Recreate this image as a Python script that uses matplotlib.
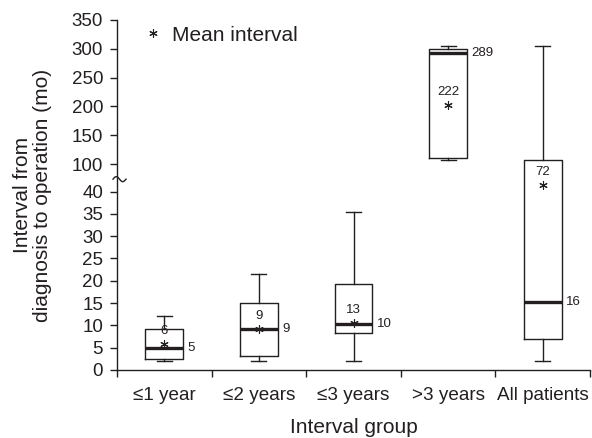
import numpy as np
import matplotlib
matplotlib.use("Agg")
import matplotlib.pyplot as plt
import matplotlib.transforms as mtransforms

plt.rcParams['font.family'] = ['Liberation Sans', 'DejaVu Sans']

# ---- Datos ----
grupos = ['≤1 year', '≤2 years', '≤3 years', '>3 years', 'All patients']
whis_lo = [2.0, 2.0, 2.1, 107, 1.95]
q1 = [2.5, 3.2, 8.3, 111, 6.95]
mediana = [5.0, 9.2, 10.2, 292, 15.3]
q3 = [9.3, 15.0, 19.2, 300.4, 107]
whis_hi = [12.0, 21.5, 35.5, 304.6, 304]
media_pos = [5.8, 9.2, 10.6, 202.6, 54.5]
media_txt = ['6', '9', '13', '222', '72']
mediana_txt = ['5', '9', '10', '289', '16']

yticks = [0, 5, 10, 15, 20, 25, 30, 35, 40, 100, 150, 200, 250, 300, 350]
corte = 67  # donde va la marca ~ del eje

# ---- Escala con corte (0-40 lineal, salto, 100-350 comprimido) ----
G = 6.17      # hueco 40 -> 100
K = 0.1291    # compresion arriba de 100


def fwd(y):
    y = np.asarray(y, dtype=float)
    return np.where(y <= 40, y,
                    np.where(y <= 100, 40 + (y - 40) * G / 60,
                             40 + G + (y - 100) * K))


def inv(t):
    t = np.asarray(t, dtype=float)
    return np.where(t <= 40, t,
                    np.where(t <= 40 + G, 40 + (t - 40) * 60 / G,
                             100 + (t - 40 - G) / K))


col = '#231f20'

fig = plt.figure(figsize=(5.92, 4.38), dpi=100)
ax = fig.add_axes([117 / 592, 1 - 370 / 438, 473 / 592, 350 / 438])
ax.set_yscale('function', functions=(fwd, inv))

stats = []
for i in range(len(grupos)):
    stats.append(dict(med=mediana[i], q1=q1[i], q3=q3[i],
                      whislo=whis_lo[i], whishi=whis_hi[i], fliers=[]))

pos = np.arange(1, len(grupos) + 1)
ax.bxp(stats, positions=pos, widths=0.4, showfliers=False, capwidths=0.16,
       boxprops=dict(color=col, lw=1.0),
       whiskerprops=dict(color=col, lw=1.0),
       capprops=dict(color=col, lw=1.0),
       medianprops=dict(color=col, lw=2.4, solid_capstyle='butt'))

# medias
ax.plot(pos, media_pos, ls='none', marker=(6, 2, 0), ms=6, mew=0.8, color=col)
for i in range(len(grupos)):
    ax.annotate(media_txt[i], (pos[i], media_pos[i]), xytext=(0, 5),
                textcoords='offset points', ha='center', va='bottom',
                fontsize=9.5, color=col)
    ax.annotate(mediana_txt[i], (pos[i] + 0.2, mediana[i]), xytext=(3, 0),
                textcoords='offset points', ha='left', va='center',
                fontsize=9.5, color=col)

ax.set_xlim(0.5, len(grupos) + 0.5)
ax.set_ylim(0, 350)
ax.set_yticks(yticks)
ax.set_yticklabels([str(v) for v in yticks])
ax.yaxis.set_minor_locator(matplotlib.ticker.NullLocator())
ax.set_xticks(pos)
ax.set_xticklabels(grupos)
ax.set_xticks(np.arange(0.5, len(grupos) + 1), minor=True)
ax.tick_params(axis='x', which='major', length=0, pad=12, labelsize=13.6, colors=col)
ax.tick_params(axis='x', which='minor', length=5, width=1, color=col)
ax.tick_params(axis='y', length=5, width=1, labelsize=13.5, color=col, labelcolor=col, pad=5)

for s in ['top', 'right']:
    ax.spines[s].set_visible(False)
for s in ['left', 'bottom']:
    ax.spines[s].set_color(col)
    ax.spines[s].set_linewidth(1)

# marca de corte (~) sobre el eje y, en pixeles alrededor del punto
trans = mtransforms.blended_transform_factory(ax.transAxes, ax.transData)
x0, y0 = trans.transform((0, corte))
dx = np.linspace(-6.5, 6.5, 40)
dy = 2.5 * np.sin(2 * np.pi * (dx + 6.5) / 13)
ax.plot(x0 + 2.5 + dx, y0 + dy, color=col, lw=1.0,
        transform=mtransforms.IdentityTransform(), clip_on=False)

ax.set_xlabel('Interval group', fontsize=15, color=col, labelpad=10)
ax.set_ylabel('Interval from\ndiagnosis to operation (mo)', fontsize=15,
              color=col, linespacing=1.05)
ax.yaxis.set_label_coords(-0.137, 0.5)

# leyenda
ax.plot([0.076], [0.962], transform=ax.transAxes, ls='none',
        marker=(6, 2, 0), ms=6, mew=0.8, color=col, clip_on=False)
ax.text(0.116, 0.955, 'Mean interval', transform=ax.transAxes,
        ha='left', va='center', fontsize=15, color=col)

fig.savefig('out.png', dpi=100)
